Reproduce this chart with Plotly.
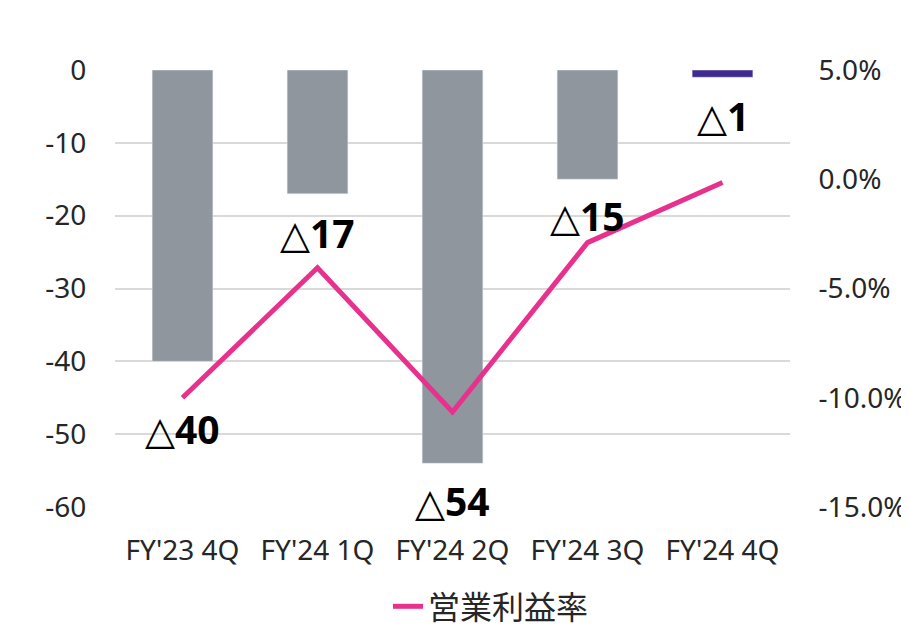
import plotly.graph_objects as go

categories = ["FY'23 4Q", "FY'24 1Q", "FY'24 2Q", "FY'24 3Q", "FY'24 4Q"]
operating_profit = [-40, -17, -54, -15, -1]
profit_labels = ["40", "17", "54", "15", "1"]
margin_pct = [-10.0, -4.05, -10.65, -2.9, -0.15]
bar_colors = ["#8f969d", "#8f969d", "#8f969d", "#8f969d", "#3f2a8f"]
left_ticks = [0, -10, -20, -30, -40, -50, -60]
left_tick_text = ["0", "-10", "-20", "-30", "-40", "-50", "-60"]
right_ticks = [5, 0, -5, -10, -15]
right_tick_text = ["5.0%", "0.0%", "-5.0%", "-10.0%", "-15.0%"]

fig = go.Figure()
fig.add_trace(go.Bar(
    x=categories, y=operating_profit, marker_color=bar_colors,
    showlegend=False, yaxis="y", hoverinfo="skip"))
fig.add_trace(go.Scatter(
    x=categories, y=margin_pct, mode="lines", name="営業利益率",
    line=dict(color="#e8318d", width=5), yaxis="y2"))

shifts = [-67, -39, -37, -36, -38]
for c, v, t, s in zip(categories, operating_profit, profit_labels, shifts):
    fig.add_annotation(
        x=c, y=v, xref="x", yref="y",
        text='<b><span style="font-family:DejaVu Sans;font-weight:bold">△</span>' + t + "</b>",
        showarrow=False, yshift=s,
        font=dict(family="Noto Sans", size=39, color="#000000"))

tick_font = dict(family="Noto Sans", size=28, color="#262626")
fig.update_layout(
    width=909, height=626,
    margin=dict(l=107, r=127, t=62, b=127),
    paper_bgcolor="white", plot_bgcolor="white",
    bargap=0.55,
    xaxis=dict(tickfont=tick_font, showgrid=False, ticks="outside", ticklen=18,
               tickcolor="rgba(0,0,0,0)", showline=False, automargin=False),
    yaxis=dict(range=[-60, 0], tickvals=left_ticks, ticktext=left_tick_text,
               tickfont=tick_font, automargin=False,
               showgrid=True, gridcolor="#d9d9d9", gridwidth=2, zeroline=False,
               ticks="outside", ticklen=22, tickcolor="rgba(0,0,0,0)"),
    yaxis2=dict(range=[-15, 5], overlaying="y", side="right", automargin=False,
                tickvals=right_ticks, ticktext=right_tick_text, tickfont=tick_font,
                showgrid=False, zeroline=False,
                ticks="outside", ticklen=22, tickcolor="rgba(0,0,0,0)"),
    legend=dict(orientation="h", x=0.557, xanchor="center",
                yref="container", y=0.0, yanchor="bottom",
                font=dict(family="Noto Sans CJK JP", size=32, color="#262626")),
)
fig.write_html("out.html")
